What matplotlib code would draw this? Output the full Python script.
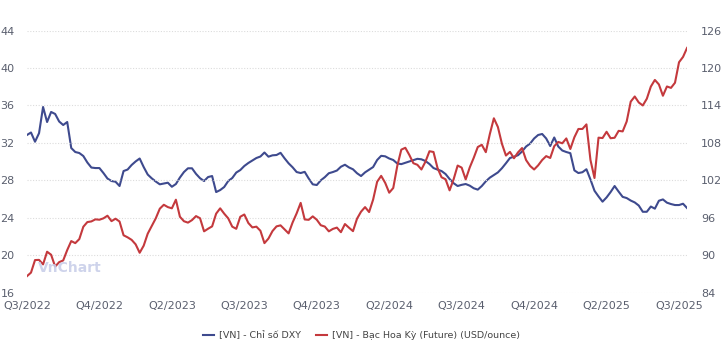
import matplotlib
matplotlib.use("Agg")
import matplotlib.pyplot as plt
import numpy as np

# quarter labels shown under the x axis (evenly spaced, every 18 points)
tick_labels = ["Q3/2022", "Q4/2022", "Q2/2023", "Q3/2023", "Q4/2023",
               "Q2/2024", "Q3/2024", "Q4/2024", "Q2/2025", "Q3/2025"]
tick_step = 18

# [VN] - Chi so DXY (right axis)
dxy = [109.27, 109.67, 108.19, 109.56, 113.76, 111.35, 112.96, 112.64, 111.43, 110.87,
       111.35, 107.18, 106.54, 106.38, 105.90, 104.86, 104.05, 103.97, 103.97, 103.17,
       102.29, 101.89, 101.78, 101.09, 103.49, 103.73, 104.46, 105.03, 105.50, 104.13,
       102.93, 102.32, 101.81, 101.36, 101.49, 101.62, 100.97, 101.41, 102.45, 103.33,
       103.93, 103.93, 103.04, 102.34, 101.89, 102.53, 102.69, 100.12, 100.44, 100.93,
       101.89, 102.37, 103.25, 103.65, 104.30, 104.78, 105.18, 105.58, 105.82, 106.46,
       105.79, 106.01, 106.06, 106.41, 105.53, 104.73, 104.09, 103.33, 103.17, 103.36,
       102.29, 101.36, 101.25, 102.00, 102.51, 103.14, 103.33, 103.57, 104.18, 104.50,
       104.07, 103.77, 103.14, 102.69, 103.28, 103.70, 104.13, 105.26, 105.93, 105.85,
       105.50, 105.26, 104.70, 104.60, 104.81, 105.02, 105.24, 105.45, 105.37, 105.10,
       104.62, 103.97, 103.72, 103.49, 103.01, 102.21, 101.54, 101.09, 101.28, 101.41,
       101.15, 100.73, 100.51, 101.09, 101.84, 102.43, 102.85, 103.27, 103.94, 104.74,
       105.58, 105.79, 106.03, 106.62, 107.42, 107.89, 108.71, 109.27, 109.43, 108.71,
       107.50, 108.87, 107.42, 106.78, 106.54, 106.35, 103.60, 103.17, 103.30, 103.78,
       102.13, 100.33, 99.42, 98.58, 99.26, 100.12, 101.09, 100.19, 99.35, 99.16,
       98.76, 98.46, 97.96, 96.96, 96.96, 97.80, 97.46, 98.73, 98.94, 98.42,
       98.20, 98.04, 98.04, 98.25, 97.56]

# [VN] - Bac Hoa Ky (Future) (USD/ounce) (left axis)
silver = [17.76, 18.14, 19.48, 19.50, 19.02, 20.37, 20.05, 18.78, 19.26, 19.44,
          20.55, 21.51, 21.29, 21.72, 23.04, 23.54, 23.61, 23.83, 23.79, 23.94,
          24.22, 23.64, 23.90, 23.60, 22.13, 21.91, 21.64, 21.16, 20.26, 21.02,
          22.30, 23.13, 23.94, 24.97, 25.39, 25.14, 25.01, 25.93, 24.11, 23.63,
          23.48, 23.75, 24.18, 23.95, 22.55, 22.83, 23.08, 24.44, 25.01, 24.44,
          23.94, 23.05, 22.82, 24.11, 24.35, 23.44, 22.97, 23.05, 22.61, 21.29,
          21.78, 22.58, 23.08, 23.19, 22.76, 22.33, 23.50, 24.47, 25.59, 23.82,
          23.78, 24.15, 23.79, 23.20, 23.06, 22.55, 22.81, 22.95, 22.46, 23.33,
          22.94, 22.57, 23.90, 24.65, 25.14, 24.61, 25.94, 27.85, 28.48, 27.73,
          26.68, 27.18, 29.53, 31.28, 31.48, 30.71, 29.83, 29.66, 29.16, 29.99,
          31.11, 31.03, 29.32, 28.33, 28.11, 26.93, 28.11, 29.58, 29.36, 28.10,
          29.37, 30.41, 31.56, 31.80, 31.01, 32.95, 34.63, 33.70, 31.91, 30.65,
          31.04, 30.36, 30.99, 31.45, 30.17, 29.54, 29.16, 29.60, 30.17, 30.59,
          30.39, 31.65, 32.10, 31.96, 32.48, 31.35, 32.60, 33.49, 33.49, 33.98,
          30.17, 28.25, 32.56, 32.52, 33.19, 32.50, 32.55, 33.29, 33.23, 34.29,
          36.41, 36.96, 36.32, 36.00, 36.72, 38.02, 38.73, 38.25, 37.04, 38.03,
          37.88, 38.43, 40.62, 41.19, 42.15]

left_ticks = [16, 20, 24, 28, 32, 36, 40, 44]
right_ticks = [84, 90, 96, 102, 108, 114, 120, 126]

blue = "#3e4a8e"
red = "#c4393d"
label_color = "#5a5f6e"

x = np.arange(len(dxy))

fig = plt.figure(figsize=(7.23, 3.56), dpi=100)
ax = fig.add_axes([0.0373, 0.178, 0.913, 0.736])
ax2 = ax.twinx()

l1, = ax2.plot(x, dxy, color=blue, linewidth=1.5, label="[VN] - Chỉ số DXY")
l2, = ax.plot(x, silver, color=red, linewidth=1.5,
              label="[VN] - Bạc Hoa Kỳ (Future) (USD/ounce)")

ax.set_zorder(ax2.get_zorder() + 1)
ax.patch.set_visible(False)

ax.set_xlim(0, len(dxy) - 1)
ax.set_ylim(16, 44)
ax2.set_ylim(84, 126)
ax.set_yticks(left_ticks)
ax2.set_yticks(right_ticks)
ax.set_xticks(np.arange(0, len(tick_labels) * tick_step, tick_step))
ax.set_xticklabels(tick_labels)

ax.grid(axis="y", color="#dcdcdc", linestyle=(0, (1, 1.5)), linewidth=0.8)
ax.grid(axis="x", visible=False)
for a in (ax, ax2):
    for s in a.spines.values():
        s.set_visible(False)
    a.tick_params(length=0, labelsize=8, colors=label_color)
ax.tick_params(axis="y", pad=9)
ax2.tick_params(axis="y", pad=10)
ax.tick_params(axis="x", pad=6)

# watermark
fig.text(0.053, 0.236, "VnChart", fontsize=10, fontweight="bold",
         color="#c9cfe9", alpha=0.9)

fig.legend(handles=[l1, l2], loc="center", bbox_to_anchor=(0.5, 0.058),
           ncol=2, frameon=False, fontsize=6.8, handlelength=1.2,
           columnspacing=1.6, handletextpad=0.5, labelcolor="#444444")

fig.savefig("out.png", dpi=100)
